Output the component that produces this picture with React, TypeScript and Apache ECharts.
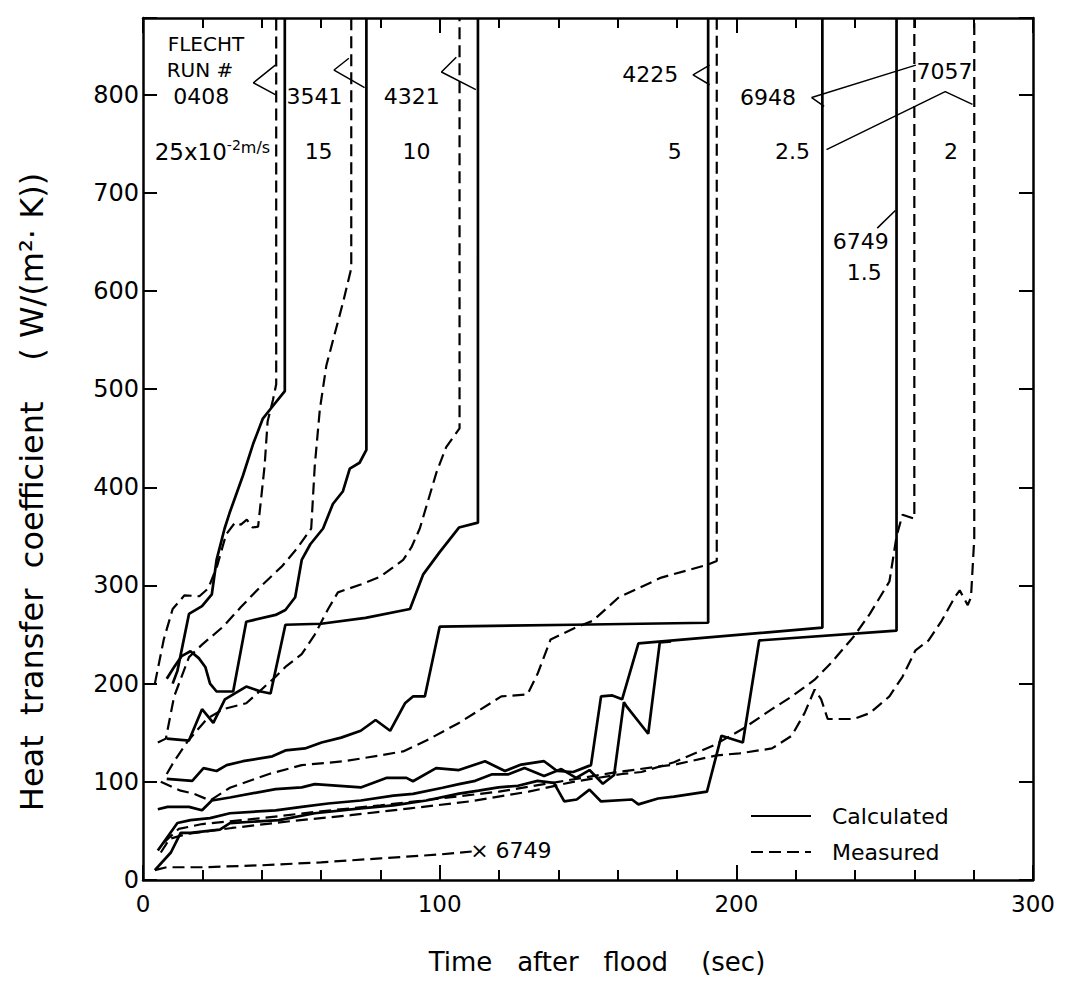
import React, { useEffect, useRef } from "react";
import * as echarts from "echarts";

// ---------- data (time s, heat transfer coefficient W/(m2 K)) ----------
const xTickValues = [0, 100, 200, 300];
const yTickValues = [0, 100, 200, 300, 400, 500, 600, 700, 800];

// Calculated (solid)
const calc0408 = [[10,200],[11.6,213],[15.5,271],[19.9,279],[23.2,291],[24.8,326],[27.5,358],[29.2,374],[33.7,412],[37.1,444],[40.4,470],[43.3,481],[47.8,498],[47.8,878]];
const calc3541 = [[8,205],[10.5,217],[13,228],[16,233],[18.8,226],[21,217],[22.6,200],[24.8,192],[30.4,192],[34.8,263],[44.7,270],[48,275],[51.3,288],[53.5,326],[56.4,342],[60.7,358],[64,383],[67.4,396],[69.7,419],[73,425],[75.3,438],[75.3,878]];
const calc4321 = [[8,144],[15.5,142],[19.9,174],[23.7,160],[27.6,184],[34.8,197],[39.7,192],[43,190],[48,260],[60,261],[75,267],[90,276],[94.4,311],[100,334],[106.5,359],[112.9,364],[112.9,878]];
const calc4225 = [[8,103],[16.6,101],[20.4,114],[24.8,111],[28.2,117],[33.7,121],[43.6,126],[48,132],[54.6,134],[60.2,140],[66.8,145],[73.4,152],[78.4,163],[83.3,152],[88.3,180],[91,187],[95,187],[100,258],[145,260],[190.5,262],[190.5,878]];
const calc6948 = [[5,72],[8.3,74.5],[15.5,74.5],[19.9,71],[23.2,81],[29.3,84],[44.7,92.6],[53.5,94.3],[57.9,97.6],[73.4,94.3],[82,104],[88.8,104],[91,100.6],[98.8,114],[106.5,112],[115.3,121],[122,111],[127.5,117.6],[135.2,121],[139.6,111],[145,110],[151,117],[154.4,187],[158.2,188],[161.5,184],[167,241],[229,257],[229,878]];
const calc7057 = [[5,30],[11.6,58],[16,61],[22.6,63],[29.3,68],[44.7,71],[53.5,74.5],[62.4,77.9],[73.4,81],[84.4,86],[91,87.7],[101,94],[106.5,97.6],[112,101],[117.7,107.6],[123.2,107.6],[128.6,114],[135.2,106],[141,113],[146,104],[150.5,112],[155,98],[158.8,107],[162.1,181],[163.2,176],[170.3,149],[174.2,242],[178,243]];
const calc6749 = [[4,10],[9.4,28],[12.7,48],[16,48],[25.9,51.4],[29.3,58],[45.8,61],[57.9,68],[73.4,72.9],[84.4,76],[95.5,81],[106.5,88],[113.1,91],[119.8,94.4],[126.4,96],[133,101],[138.5,99],[142,80],[146.2,82],[150.5,92],[154.4,80],[164.8,82],[167,77],[173.6,83],[179,85],[190.1,90],[195,147],[202.2,140],[207.7,244],[254,254],[254,878]];

// Measured (dashed)
const meas0408 = [[4,200],[7,245],[10,276],[14,290],[19,289],[22,297],[25,320],[28,352],[31,364],[33,362],[35,367],[37,359],[38.8,360],[41,422],[42,467],[43.8,489],[44.9,505],[44.9,878]];
const meas3541 = [[5,140],[7.7,144],[10.5,187],[15.5,227],[20,240],[27,258],[33,278],[40,300],[47,320],[52,338],[56.7,358],[57.9,422],[59.6,479],[61.8,524],[67.4,588],[70.2,623],[70.2,878]];
const meas4321 = [[8,108],[10.5,121],[15,141],[21.5,164],[27,174],[34.8,180],[44.7,207],[48,217],[53.5,230],[57.9,250],[62.4,276],[65.7,293],[73.4,301],[80,309],[87.7,326],[90.5,339],[93.3,358],[98.9,415],[102.2,441],[106.7,460],[106.7,878]];
const meas4225 = [[6,100],[12.7,91],[17,88],[22.6,81],[29.3,94],[42.5,108],[53.5,117],[67.9,121],[80,127],[87.7,131],[95.5,142],[106.5,160],[120.8,187],[129.6,189],[133,210],[137.4,245],[145,256],[151.6,264],[160.4,288],[174.7,308],[190.1,321],[193.4,325],[193.4,878]];
const meas6948 = [[6,28],[9,42],[15,47],[30,53],[50,60],[70,66],[90,73],[110,80],[130,90],[145,100],[161.5,108],[168,110],[179,120],[192.3,137],[202.2,154],[212,174],[218.7,187],[226.4,204],[231.9,221],[239.6,248],[245,271],[251.6,304],[254,350],[256,372],[260,368],[260,878]];
const meas7057 = [[7,38],[12,52],[20,57],[40,63],[60,70],[80,76],[100,83],[120,90],[140,100],[160,110],[180,118],[193.4,127],[201.1,129],[212,134],[218.7,147],[223,170],[226.4,194],[228.6,184],[230.8,164],[239.6,164],[245,170],[251.6,187],[256,207],[260.4,234],[264.8,244],[269.2,264],[273.6,288],[275.3,295],[278,280],[279.1,288],[280.2,348],[280.2,878]];
const meas6749 = [[4,10],[8,13],[20,13],[40,15],[60,18],[80,22],[100,26],[110.8,29]];

// Annotation texts and their data positions
const noteTexts = ["{f|FLECHT}", "{f|RUN #}", "0408", "{b|25x10}{s|-2}{u|m/s}", "3541", "15", "4321", "10", "4225", "5", "6948", "2.5", "7057", "2", "6749", "1.5", "× 6749"];
const noteX = [21.2, 19.2, 19.6, 23.4, 57.8, 59.2, 90.6, 92.2, 171, 179.2, 210.7, 218.9, 270.2, 272.4, 241.9, 243.1, 124];
const noteY = [852, 825, 798, 742, 798, 742, 798, 742, 820, 742, 797, 742, 824, 742, 650, 619, 30];

// Leader lines (data coordinates)
const leader0408 = [[44.6,830],[37.2,812],[44.6,800]];
const leader3541 = [[69.4,837],[64.4,825],[74.7,807]];
const leader4321 = [[105.6,838],[100.6,823],[112.2,805]];
const leader4225 = [[191,830],[185.4,820],[191,810]];
const leader6948 = [[260.5,830],[225.4,797],[229.6,788]];
const leader7057 = [[230.4,744],[270.4,803],[279.6,790]];
const leader6749 = [[247.5,664],[253.6,682]];

const FONT = "DejaVu Sans";

function buildOption() {
  const solid = (name: string, data: number[][]) => ({
    name, type: "line", data, symbol: "none", silent: true,
    itemStyle: { color: "#000" },
    lineStyle: { color: "#000", width: 2.7, type: "solid" },
  });
  const dashed = (name: string, data: number[][]) => ({
    name, type: "line", data, symbol: "none", silent: true,
    itemStyle: { color: "#000" },
    lineStyle: { color: "#000", width: 2.2, type: [12, 6] },
  });
  const leader = (name: string, data: number[][]) => ({
    name, type: "line", data, symbol: "none", silent: true,
    lineStyle: { color: "#000", width: 1.5, type: "solid" },
  });

  const notes = noteTexts.map((t, i) => ({
    value: [noteX[i], noteY[i]],
    label: { formatter: t },
  }));

  const axisLine = { show: true, onZero: false, lineStyle: { color: "#000", width: 2.5 } };

  return {
    animation: false,
    backgroundColor: "#fff",
    textStyle: { fontFamily: FONT, color: "#000" },
    grid: { left: 143, top: 18, width: 890, height: 862, containLabel: false },
    legend: {
      data: ["Calculated", "Measured"],
      orient: "vertical",
      left: 745,
      top: 800,
      itemWidth: 60,
      itemHeight: 14,
      itemGap: 14,
      selectedMode: false,
      itemStyle: { opacity: 0 },
      textStyle: { fontSize: 22, fontFamily: FONT, color: "#000", padding: [0, 0, 0, 16] },
    },
    xAxis: [
      {
        type: "value", min: 0, max: 300, interval: 100, position: "bottom",
        axisLine,
        axisTick: { show: true, inside: true, length: 15, lineStyle: { color: "#000", width: 2 } },
        minorTick: { show: true, splitNumber: 5, length: 10, lineStyle: { color: "#000", width: 2 } },
        splitLine: { show: false },
        axisLabel: {
          fontSize: 23, fontFamily: FONT, color: "#000", margin: 12,
          formatter: (v: number) => (xTickValues.includes(v) ? String(v) : ""),
        },
      },
      {
        type: "value", min: 0, max: 300, interval: 100, position: "top",
        axisLine,
        axisTick: { show: true, inside: true, length: 15, lineStyle: { color: "#000", width: 2 } },
        minorTick: { show: true, splitNumber: 5, length: 10, lineStyle: { color: "#000", width: 2 } },
        splitLine: { show: false },
        axisLabel: { show: false },
      },
    ],
    yAxis: [
      {
        type: "value", min: 0, max: 878, interval: 100, position: "left",
        axisLine,
        axisTick: { show: true, inside: true, length: 14, lineStyle: { color: "#000", width: 2 } },
        splitLine: { show: false },
        axisLabel: {
          fontSize: 24, fontFamily: FONT, color: "#000", margin: 4,
          formatter: (v: number) => (yTickValues.includes(v) ? String(v) : ""),
        },
      },
      {
        type: "value", min: 0, max: 878, interval: 100, position: "right",
        axisLine,
        axisTick: { show: true, inside: true, length: 14, lineStyle: { color: "#000", width: 2 } },
        splitLine: { show: false },
        axisLabel: { show: false },
      },
    ],
    graphic: [
      {
        type: "text", x: 32, y: 492, rotation: Math.PI / 2,
        style: {
          text: "Heat  transfer  coefficient    ( W/(m²· K))",
          font: `32px "${FONT}"`, fill: "#000",
          textAlign: "center", textVerticalAlign: "middle",
          align: "center", verticalAlign: "middle",
        },
      },
      {
        type: "text", x: 597, y: 962,
        style: {
          text: "Time   after   flood    (sec)",
          font: `26px "${FONT}"`, fill: "#000",
          textAlign: "center", textVerticalAlign: "middle",
          align: "center", verticalAlign: "middle",
        },
      },
    ],
    series: [
      solid("Calculated", []),
      dashed("Measured", []),
      solid("c0408", calc0408),
      solid("c3541", calc3541),
      solid("c4321", calc4321),
      solid("c4225", calc4225),
      solid("c6948", calc6948),
      solid("c7057", calc7057),
      solid("c6749", calc6749),
      dashed("m0408", meas0408),
      dashed("m3541", meas3541),
      dashed("m4321", meas4321),
      dashed("m4225", meas4225),
      dashed("m6948", meas6948),
      dashed("m7057", meas7057),
      dashed("m6749", meas6749),
      leader("l0408", leader0408),
      leader("l3541", leader3541),
      leader("l4321", leader4321),
      leader("l4225", leader4225),
      leader("l6948", leader6948),
      leader("l7057", leader7057),
      leader("l6749", leader6749),
      {
        name: "notes", type: "scatter", symbolSize: 0, silent: true, data: notes,
        itemStyle: { opacity: 1, color: "#000" },
        label: {
          show: true, position: "inside", color: "#000", fontSize: 22, fontFamily: FONT, opacity: 1,
          rich: {
            f: { fontSize: 20, fontFamily: FONT, color: "#000" },
            b: { fontSize: 23, fontFamily: FONT, color: "#000" },
            s: { fontSize: 14, fontFamily: FONT, color: "#000", padding: [0, 0, 14, 0] },
            u: { fontSize: 16, fontFamily: FONT, color: "#000", padding: [0, 0, 8, 0] },
          },
        },
      },
    ],
  };
}

export default function App() {
  const ref = useRef<HTMLDivElement>(null);
  useEffect(() => {
    if (!ref.current) return;
    const chart = echarts.init(ref.current, null, { renderer: "svg" });
    chart.setOption(buildOption() as any);
    return () => chart.dispose();
  }, []);
  return (
    <div
      ref={ref}
      style={{ position: "absolute", left: 0, top: 0, width: 1078, height: 1001, background: "#fff" }}
    />
  );
}
